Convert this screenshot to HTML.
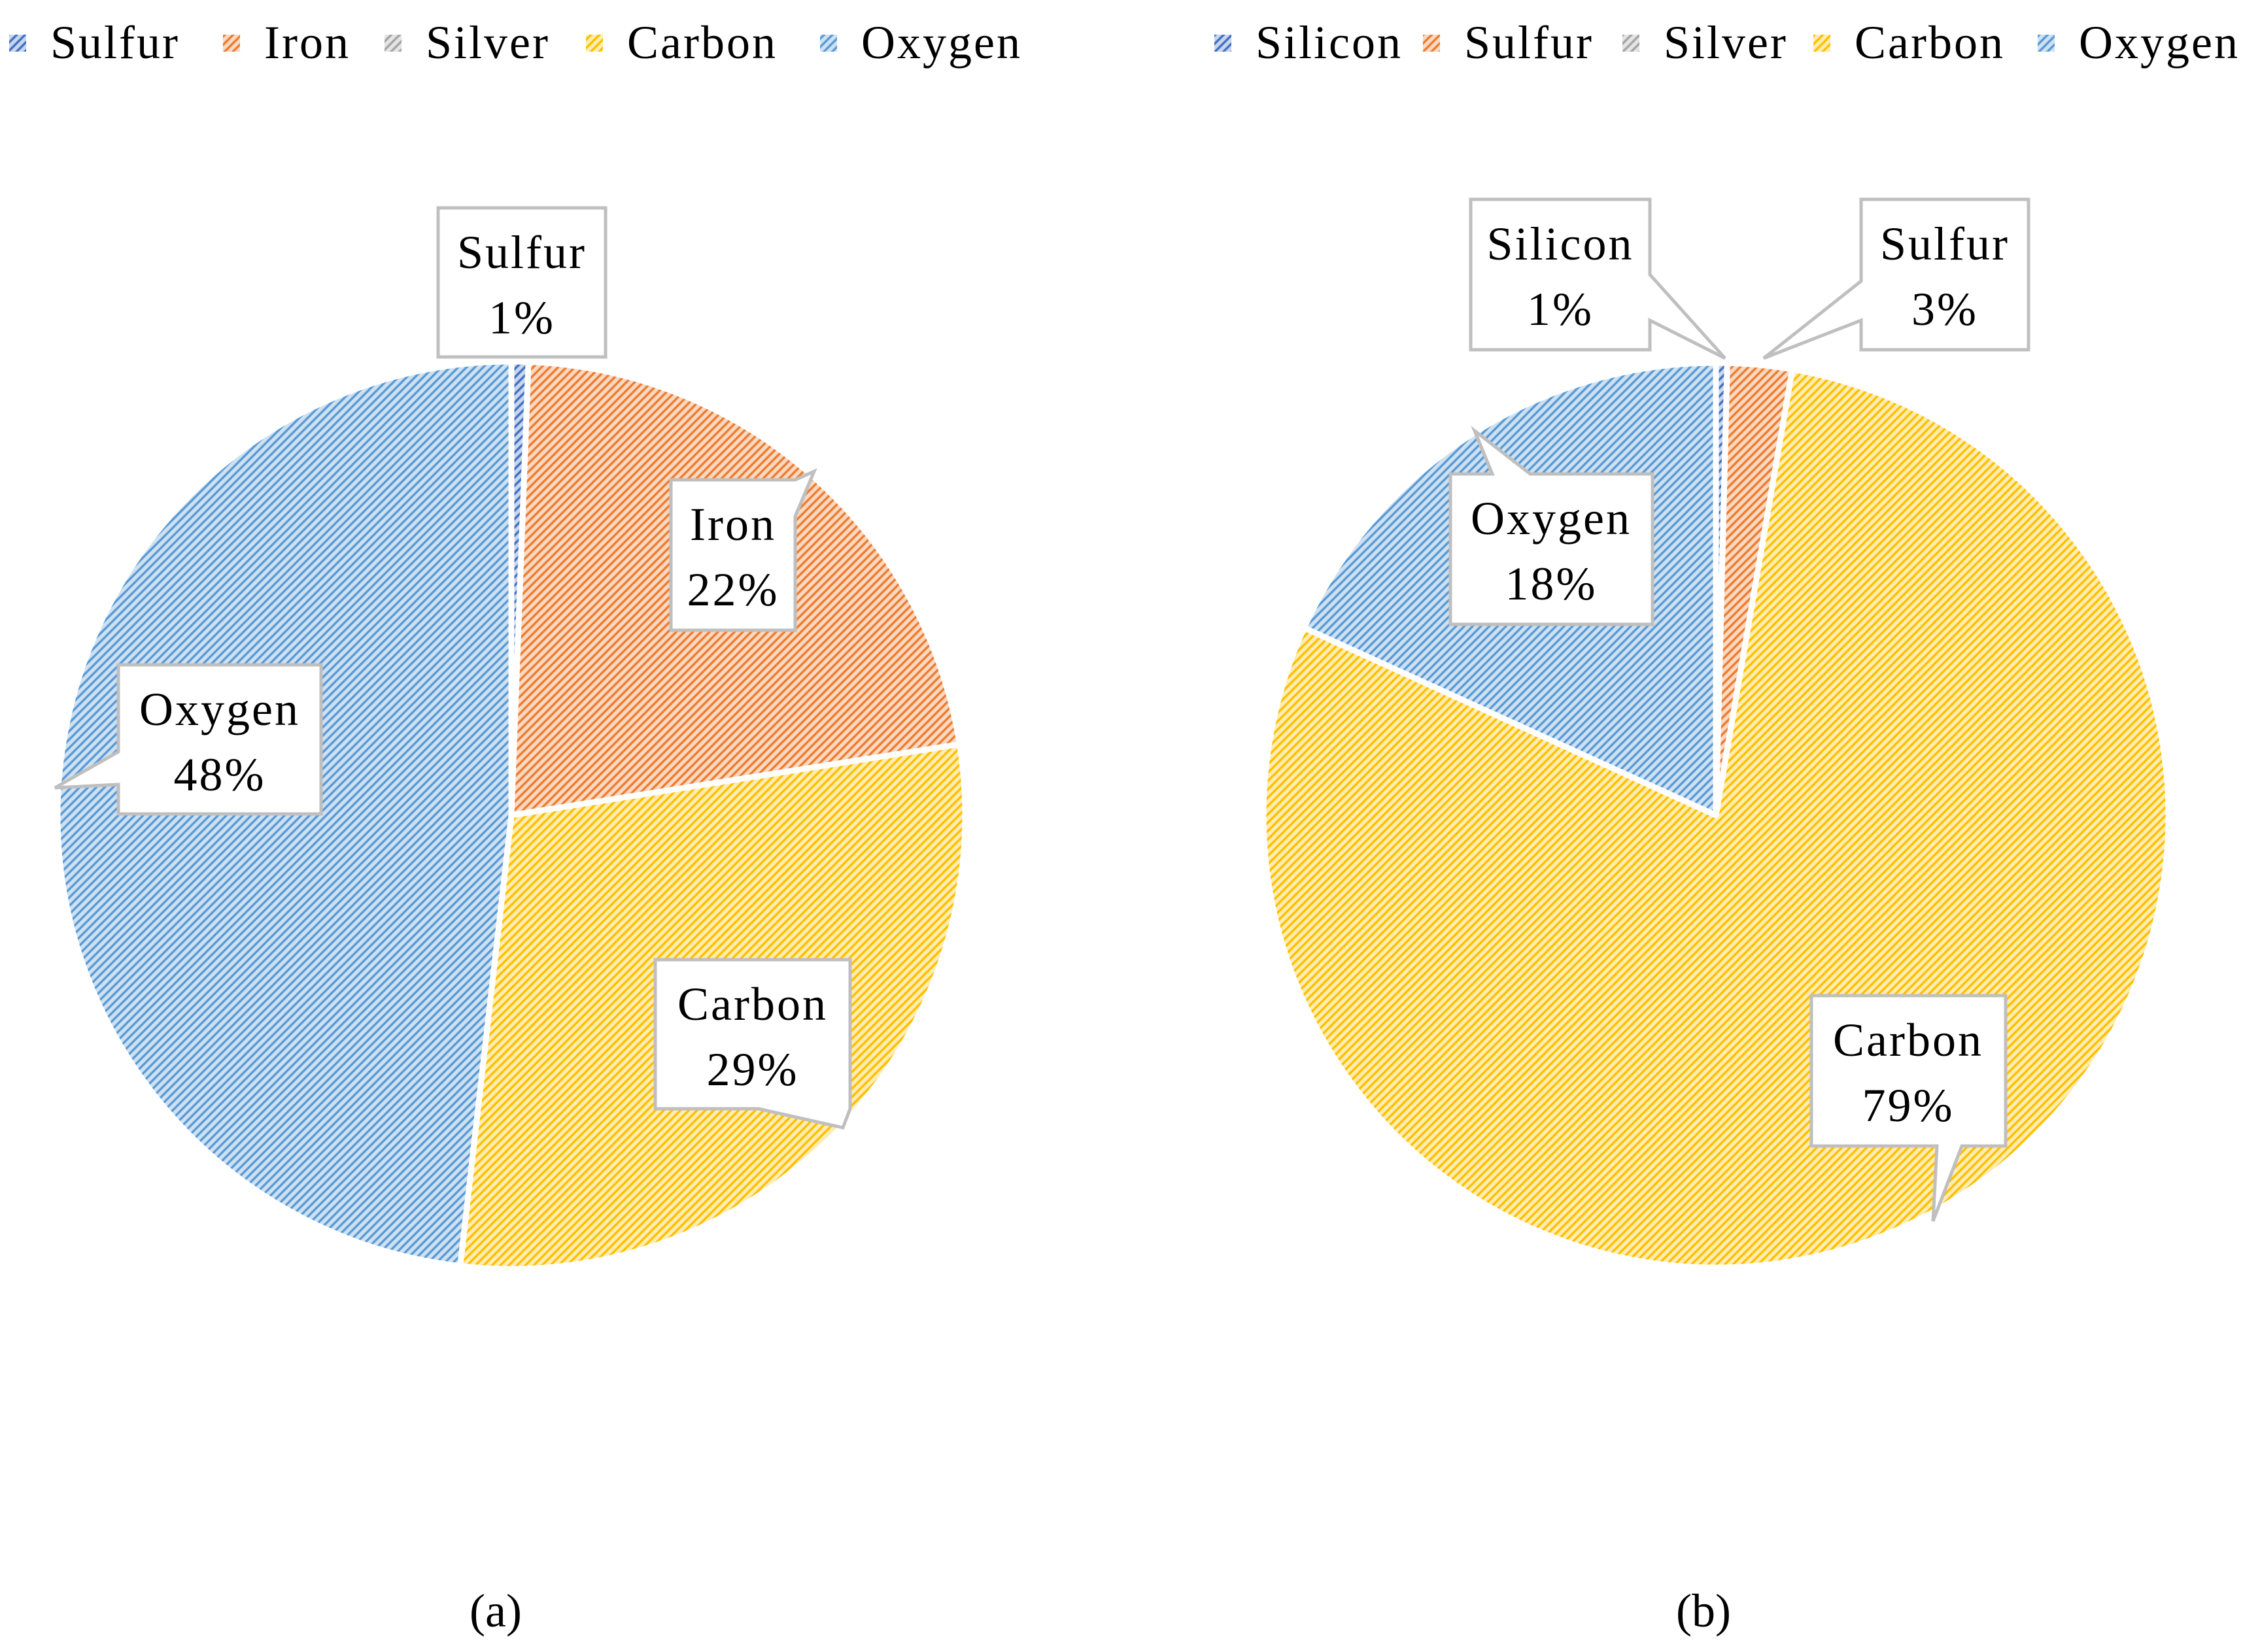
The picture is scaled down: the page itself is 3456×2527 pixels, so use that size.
<!DOCTYPE html>
<html><head><meta charset="utf-8"><style>
html,body{margin:0;padding:0;background:#fff;width:3456px;height:2527px;overflow:hidden}
svg{display:block}
text{font-family:"Liberation Serif",serif;fill:#000}
</style></head><body>
<svg id="chart" width="3456" height="2527" viewBox="0 0 3456 2527" xmlns="http://www.w3.org/2000/svg">
<defs id="defs"></defs>
</svg>
<script>
// Chart (a)
const catsA = ["Sulfur","Iron","Silver","Carbon","Oxygen"];
const valsA = [0.6, 21.9, 0, 29.3, 48.2];
const labelsA = ["1%","22%","0%","29%","48%"];
// Chart (b)
const catsB = ["Silicon","Sulfur","Silver","Carbon","Oxygen"];
const valsB = [0.4, 2.3, 0, 79.1, 18.2];
const labelsB = ["1%","3%","0%","79%","18%"];
const colorsA = ["#4472c4","#ed7d31","#a5a5a5","#ffc000","#5b9bd5"];
const colorsB = ["#4472c4","#ed7d31","#a5a5a5","#ffc000","#5b9bd5"];

const NS="http://www.w3.org/2000/svg";
const svg=document.getElementById('chart');
const defs=document.getElementById('defs');
function el(t,a,p){const e=document.createElementNS(NS,t);for(const k in a)e.setAttribute(k,a[k]);(p||svg).appendChild(e);return e;}
function light(hex,f){const n=parseInt(hex.slice(1),16);let r=n>>16,g=(n>>8)&255,b=n&255;r=Math.round(255-(255-r)*f);g=Math.round(255-(255-g)*f);b=Math.round(255-(255-b)*f);return `rgb(${r},${g},${b})`;}
const pats={};
function pattern(c){
  if(pats[c])return pats[c];
  const id='p'+c.slice(1);
  const p=el('pattern',{id:id,patternUnits:'userSpaceOnUse',width:9,height:9,patternTransform:'rotate(45)'},defs);
  el('rect',{x:0,y:0,width:9,height:9,fill:light(c,0.3)},p);
  el('rect',{x:0,y:0,width:3.5,height:9,fill:c},p);
  pats[c]='url(#'+id+')';return pats[c];
}

function drawPie(cx,cy,r,cats,vals,colors,name){
  const g=el('g',{});
  
  
  const tot=vals.reduce((a,b)=>a+b,0);
  let acc=0;
  cats.forEach((c,i)=>{
    const v=vals[i];
    const a0=acc/tot*2*Math.PI; acc+=v; const a1=acc/tot*2*Math.PI;
    if(v<=0)return;
    const x0=cx+r*Math.sin(a0),y0=cy-r*Math.cos(a0),x1=cx+r*Math.sin(a1),y1=cy-r*Math.cos(a1);
    const large=(a1-a0)>Math.PI?1:0;
    const p=el('path',{d:`M${cx},${cy}L${x0},${y0}A${r},${r} 0 ${large} 1 ${x1},${y1}Z`,fill:pattern(colors[i]),stroke:'#fff','stroke-width':9,'stroke-linejoin':'round'},g);
    
    
  });
}
drawPie(782,1247,694,catsA,valsA,colorsA,'pie-a');
drawPie(2624,1247,692,catsB,valsB,colorsB,'pie-b');

function callout(name,pts,tx,ty,l1,l2){
  const g=el('g',{});
  
  
  el('polygon',{points:pts.map(p=>p.join(',')).join(' '),fill:'#fff',stroke:'#bfbfbf','stroke-width':5},g);
  const t1=el('text',{x:tx,y:ty,'font-size':72,'letter-spacing':3,'text-anchor':'middle'},g);t1.textContent=l1;
  const t2=el('text',{x:tx,y:ty+100,'font-size':72,'letter-spacing':3,'text-anchor':'middle'},g);t2.textContent=l2;
}
callout('label-a-sulfur',[[670,318],[926,318],[926,546],[670,546]],798,410,catsA[0],labelsA[0]);
callout('label-a-iron',[[1026,734],[1216,734],[1245,721],[1216,790],[1216,964],[1026,964]],1121,826,catsA[1],labelsA[1]);
callout('label-a-oxygen',[[181,1017],[491,1017],[491,1245],[181,1245],[181,1200],[84,1205],[181,1150]],336,1109,catsA[4],labelsA[4]);
callout('label-a-carbon',[[1002,1468],[1300,1468],[1300,1696],[1289,1725],[1160,1696],[1002,1696]],1151,1560,catsA[3],labelsA[3]);
callout('label-b-silicon',[[2249,305],[2523,305],[2523,420],[2638,548],[2523,490],[2523,535],[2249,535]],2386,397,catsB[0],labelsB[0]);
callout('label-b-sulfur',[[2846,305],[3102,305],[3102,535],[2846,535],[2846,490],[2697,548],[2846,430],[2846,305]],2974,397,catsB[1],labelsB[1]);
callout('label-b-oxygen',[[2218,725],[2282,725],[2255,659],[2340,725],[2527,725],[2527,955],[2218,955]],2372,817,catsB[4],labelsB[4]);
callout('label-b-carbon',[[2770,1523],[3067,1523],[3067,1753],[3000,1753],[2956,1868],[2962,1753],[2770,1753]],2918,1615,catsB[3],labelsB[3]);

const legA=[27,354,601,909,1267], legB=[1870,2189,2494,2786,3129];
function legend(cats,colors,xs,name){
  const g=el('g',{});
  
  
  cats.forEach((c,i)=>{
    const it=el('g',{},g);
    
    
    el('rect',{x:xs[i]-13,y:53,width:26,height:26,fill:pattern(colors[i])},it);
    const t=el('text',{x:xs[i]+50,y:89,'font-size':72,'letter-spacing':3},it);t.textContent=c;
  });
}
legend(catsA,colorsA,legA,'legend-a');
legend(catsB,colorsB,legB,'legend-b');

const ca=el('text',{x:758,y:2488,'font-size':72,'text-anchor':'middle'});ca.textContent='(a)';


const cb=el('text',{x:2605,y:2488,'font-size':72,'text-anchor':'middle'});cb.textContent='(b)';


</script>
</body></html>
